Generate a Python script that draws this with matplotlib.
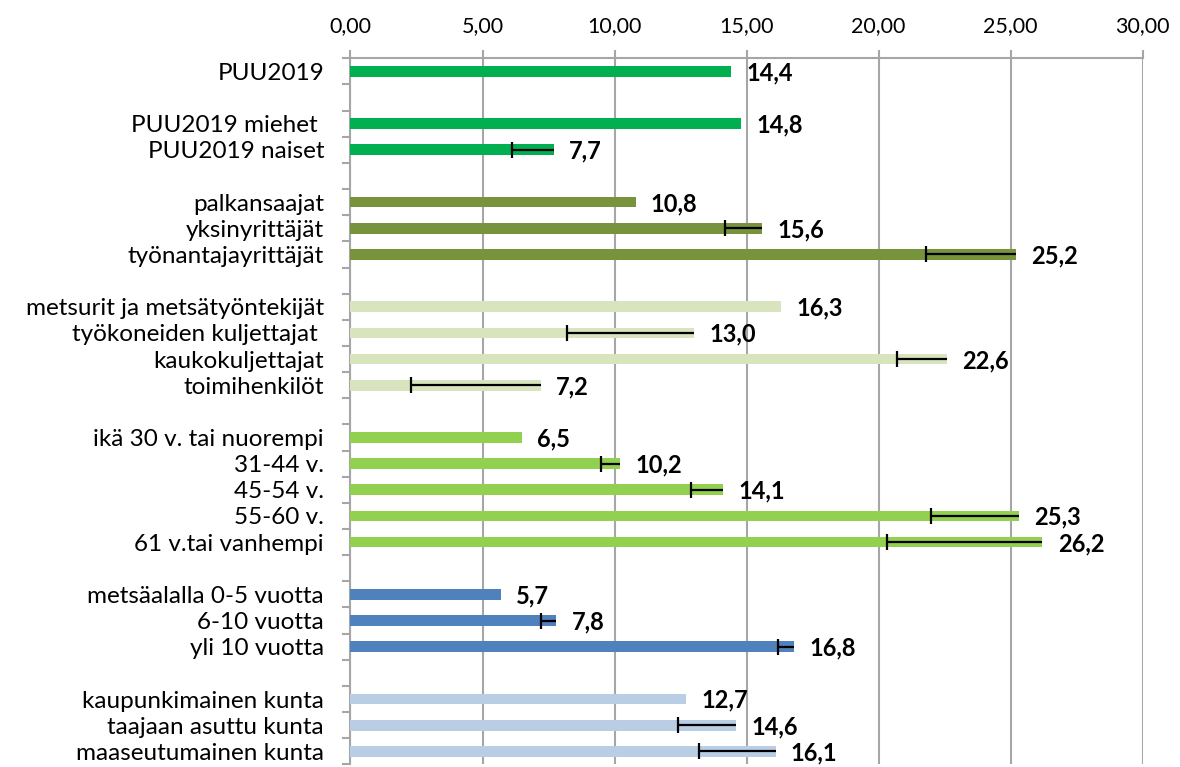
import matplotlib
matplotlib.use("Agg")
import matplotlib.pyplot as plt
from matplotlib.ticker import FuncFormatter, MultipleLocator

plt.rcParams['font.family'] = ['Lato', 'DejaVu Sans']

# groups of categories (a blank row is left between groups)
group_labels = [
    ["PUU2019"],
    ["PUU2019 miehet ", "PUU2019 naiset"],
    ["palkansaajat", "yksinyrittäjät", "työnantajayrittäjät"],
    ["metsurit ja metsätyöntekijät", "työkoneiden kuljettajat ",
     "kaukokuljettajat", "toimihenkilöt"],
    ["ikä 30 v. tai nuorempi", "31-44 v.", "45-54 v.", "55-60 v.",
     "61 v.tai vanhempi"],
    ["metsäalalla 0-5 vuotta", "6-10 vuotta", "yli 10 vuotta"],
    ["kaupunkimainen kunta", "taajaan asuttu kunta", "maaseutumainen kunta"],
]
group_values = [
    [14.4],
    [14.8, 7.7],
    [10.8, 15.6, 25.2],
    [16.3, 13.0, 22.6, 7.2],
    [6.5, 10.2, 14.1, 25.3, 26.2],
    [5.7, 7.8, 16.8],
    [12.7, 14.6, 16.1],
]
# lower end of the error bar (None = no error bar)
group_lower = [
    [None],
    [None, 6.1],
    [None, 14.2, 21.8],
    [None, 8.2, 20.7, 2.3],
    [None, 9.5, 12.9, 22.0, 20.3],
    [None, 7.2, 16.2],
    [None, 12.4, 13.2],
]
group_colors = ["#00B050", "#00B050", "#77933C", "#D7E4BD",
                "#92D050", "#4F81BD", "#B9CDE5"]

fig = plt.figure(figsize=(11.8, 7.67), dpi=100)
ax = fig.add_axes([0.2970, 0.0034, 0.6714, 0.9206])

# build row positions, leaving one empty slot between groups
pos = 0
ypos, labels, vals, lows, cols = [], [], [], [], []
for g, (labs, vs, lo) in enumerate(zip(group_labels, group_values, group_lower)):
    if g > 0:
        pos += 1
    for lab, v, l in zip(labs, vs, lo):
        ypos.append(pos)
        labels.append(lab)
        vals.append(v)
        lows.append(l)
        cols.append(group_colors[g])
        pos += 1
nslots = pos

ax.barh(ypos, vals, height=0.41, color=cols, zorder=3)

for y, v, l in zip(ypos, vals, lows):
    if l is not None:
        ax.hlines(y, l, v, color="black", lw=1.6, zorder=4)
        ax.plot([l], [y], marker="|", ms=11, mew=1.6, color="black", zorder=4)
    ax.annotate(f"{v:.1f}".replace(".", ","), (v, y), xytext=(11, -1),
                textcoords="offset points", ha="left", va="center",
                fontsize=17, fontweight="bold", color="black")

ax.set_xlim(0, 30)
ax.set_ylim(nslots - 0.5, -0.5)
ax.xaxis.set_major_locator(MultipleLocator(5))
ax.xaxis.set_major_formatter(FuncFormatter(lambda x, p: f"{x:.2f}".replace(".", ",")))
ax.xaxis.tick_top()
ax.grid(axis="x", color="#A6A6A6", lw=1.5, zorder=0)

ax.set_yticks(ypos)
ax.set_yticklabels(labels)
ax.set_yticks([i - 0.5 for i in range(nslots + 1)], minor=True)
ax.tick_params(axis="y", which="major", length=0, pad=19, labelsize=17.5)
ax.tick_params(axis="y", which="minor", length=6, width=1.5, color="#A6A6A6")
ax.tick_params(axis="x", length=6, width=1.5, color="#A6A6A6", labelsize=15.5,
               pad=10)

for s in ["right", "bottom"]:
    ax.spines[s].set_visible(False)
for s in ["left", "top"]:
    ax.spines[s].set_color("#A6A6A6")
    ax.spines[s].set_linewidth(1.5)

fig.savefig("out.png", dpi=100)
